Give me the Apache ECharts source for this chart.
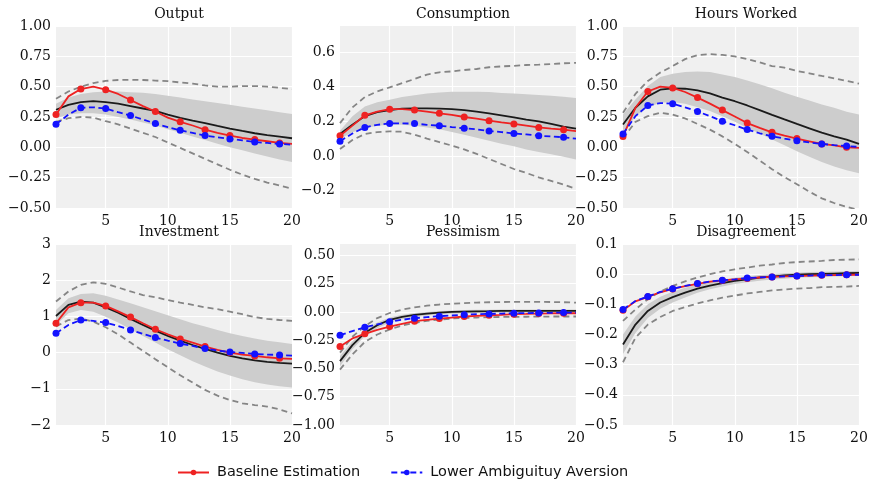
<!DOCTYPE html>
<html>
<head>
<meta charset="utf-8">
<script src="https://cdn.jsdelivr.net/npm/echarts@6/dist/echarts.min.js"></script>
<style>html,body{margin:0;padding:0;background:#fff;}#c{width:871px;height:483px;}</style>
</head>
<body>
<div id="c"></div>
<script>
// ---------- data ----------
const horizons = [1,2,3,4,5,6,7,8,9,10,11,12,13,14,15,16,17,18,19,20];
const xTicks = [5,10,15,20];
const panelTitles = ['Output','Consumption','Hours Worked','Investment','Pessimism','Disagreement'];
const seriesNames = ['Baseline Estimation','Lower Ambiguituy Aversion'];

// Output
const output_red   = [0.27,0.42,0.48,0.50,0.475,0.44,0.39,0.34,0.295,0.245,0.21,0.18,0.145,0.12,0.097,0.077,0.064,0.05,0.036,0.028];
const output_blue  = [0.19,0.27,0.326,0.33,0.32,0.29,0.262,0.23,0.196,0.166,0.141,0.119,0.097,0.083,0.069,0.058,0.044,0.036,0.028,0.022];
const output_med   = [0.31,0.35,0.373,0.38,0.373,0.36,0.34,0.32,0.30,0.27,0.243,0.22,0.20,0.177,0.155,0.135,0.116,0.10,0.088,0.075];
const output_bandLo= [0.24,0.27,0.28,0.28,0.27,0.25,0.23,0.205,0.18,0.15,0.12,0.09,0.06,0.03,0.0,-0.025,-0.05,-0.075,-0.10,-0.12];
const output_bandHi= [0.36,0.41,0.44,0.455,0.46,0.46,0.455,0.45,0.44,0.425,0.41,0.395,0.38,0.365,0.35,0.335,0.32,0.305,0.29,0.275];
const output_ciLo  = [0.21,0.24,0.25,0.245,0.215,0.19,0.155,0.12,0.085,0.04,-0.005,-0.05,-0.095,-0.14,-0.185,-0.225,-0.26,-0.29,-0.315,-0.34];
const output_ciHi  = [0.40,0.46,0.50,0.53,0.547,0.555,0.556,0.555,0.55,0.545,0.535,0.525,0.51,0.50,0.50,0.505,0.505,0.50,0.49,0.48];

// Consumption
const cons_red   = [0.117,0.175,0.235,0.256,0.27,0.27,0.265,0.256,0.246,0.237,0.225,0.215,0.204,0.194,0.185,0.175,0.165,0.158,0.152,0.144];
const cons_blue  = [0.085,0.13,0.165,0.18,0.188,0.188,0.187,0.18,0.175,0.167,0.16,0.154,0.144,0.138,0.13,0.125,0.117,0.113,0.108,0.10];
const cons_med   = [0.127,0.18,0.23,0.253,0.265,0.273,0.275,0.275,0.273,0.27,0.265,0.256,0.246,0.235,0.223,0.21,0.20,0.185,0.17,0.158];
const cons_bandLo= [0.10,0.137,0.16,0.175,0.18,0.18,0.175,0.165,0.154,0.138,0.123,0.106,0.088,0.071,0.056,0.038,0.023,0.01,-0.004,-0.02];
const cons_bandHi= [0.146,0.23,0.285,0.31,0.325,0.34,0.35,0.36,0.367,0.37,0.37,0.37,0.369,0.363,0.36,0.356,0.352,0.348,0.342,0.335];
const cons_ciLo  = [0.04,0.092,0.127,0.138,0.142,0.14,0.123,0.10,0.08,0.06,0.038,0.012,-0.017,-0.046,-0.075,-0.098,-0.123,-0.144,-0.165,-0.19];
const cons_ciHi  = [0.19,0.28,0.34,0.373,0.396,0.42,0.444,0.47,0.483,0.488,0.496,0.502,0.512,0.517,0.52,0.525,0.527,0.53,0.535,0.537];

// Hours Worked
const hours_red   = [0.09,0.326,0.46,0.50,0.49,0.456,0.41,0.36,0.307,0.254,0.20,0.16,0.124,0.097,0.072,0.05,0.028,0.017,0.0,-0.005];
const hours_blue  = [0.11,0.257,0.345,0.365,0.36,0.33,0.296,0.257,0.215,0.182,0.146,0.116,0.091,0.072,0.055,0.041,0.028,0.019,0.011,0.003];
const hours_med   = [0.188,0.326,0.42,0.475,0.486,0.483,0.47,0.445,0.41,0.38,0.345,0.307,0.268,0.23,0.193,0.157,0.121,0.09,0.064,0.028];
const hours_bandLo= [0.105,0.257,0.33,0.367,0.373,0.36,0.33,0.30,0.257,0.21,0.16,0.113,0.064,0.017,-0.033,-0.077,-0.12,-0.157,-0.188,-0.213];
const hours_bandHi= [0.27,0.395,0.505,0.58,0.607,0.62,0.624,0.62,0.60,0.58,0.55,0.52,0.486,0.45,0.417,0.387,0.354,0.326,0.293,0.27];
const hours_ciLo  = [0.072,0.21,0.257,0.285,0.27,0.238,0.193,0.146,0.09,0.028,-0.039,-0.108,-0.18,-0.246,-0.304,-0.365,-0.42,-0.459,-0.49,-0.517];
const hours_ciHi  = [0.285,0.44,0.547,0.616,0.67,0.727,0.76,0.768,0.762,0.749,0.727,0.70,0.67,0.657,0.63,0.61,0.588,0.569,0.547,0.525];

// Investment
const inv_red   = [0.81,1.25,1.38,1.38,1.29,1.14,0.98,0.81,0.645,0.506,0.378,0.276,0.166,0.074,0.0,-0.055,-0.092,-0.129,-0.157,-0.175];
const inv_blue  = [0.534,0.764,0.90,0.875,0.83,0.737,0.626,0.516,0.414,0.33,0.249,0.184,0.11,0.055,0.018,-0.009,-0.037,-0.055,-0.065,-0.083];
const inv_med   = [1.01,1.32,1.41,1.38,1.25,1.10,0.93,0.764,0.608,0.46,0.33,0.21,0.10,0.0,-0.092,-0.157,-0.212,-0.258,-0.285,-0.304];
const inv_bandLo= [0.76,1.09,1.18,1.13,0.99,0.83,0.645,0.46,0.276,0.092,-0.074,-0.24,-0.387,-0.525,-0.635,-0.737,-0.82,-0.884,-0.93,-0.967];
const inv_bandHi= [1.18,1.50,1.62,1.64,1.57,1.47,1.36,1.25,1.14,1.03,0.92,0.81,0.72,0.626,0.534,0.46,0.387,0.33,0.285,0.24];
const inv_ciLo  = [0.72,0.90,0.94,0.856,0.70,0.506,0.276,0.046,-0.184,-0.405,-0.626,-0.83,-1.03,-1.19,-1.31,-1.40,-1.45,-1.49,-1.57,-1.68];
const inv_ciHi  = [1.41,1.69,1.87,1.94,1.90,1.80,1.69,1.59,1.53,1.45,1.38,1.32,1.25,1.20,1.13,1.06,0.98,0.93,0.90,0.875];

// Pessimism
const pess_red   = [-0.306,-0.235,-0.194,-0.159,-0.13,-0.106,-0.082,-0.07,-0.059,-0.05,-0.041,-0.035,-0.03,-0.026,-0.02,-0.018,-0.015,-0.014,-0.012,-0.012];
const pess_blue  = [-0.206,-0.17,-0.135,-0.11,-0.088,-0.07,-0.056,-0.047,-0.038,-0.032,-0.026,-0.02,-0.018,-0.015,-0.012,-0.011,-0.009,-0.008,-0.006,-0.006];
const pess_med   = [-0.435,-0.294,-0.185,-0.118,-0.07,-0.044,-0.026,-0.015,-0.006,0.0,0.003,0.005,0.006,0.008,0.009,0.009,0.009,0.009,0.009,0.009];
const pess_bandLo= [-0.48,-0.33,-0.215,-0.145,-0.095,-0.065,-0.045,-0.032,-0.022,-0.016,-0.012,-0.01,-0.009,-0.008,-0.008,-0.008,-0.008,-0.008,-0.008,-0.008];
const pess_bandHi= [-0.39,-0.26,-0.16,-0.095,-0.05,-0.025,-0.01,0.0,0.008,0.013,0.016,0.018,0.019,0.02,0.02,0.02,0.02,0.02,0.02,0.02];
const pess_ciLo  = [-0.51,-0.376,-0.265,-0.20,-0.156,-0.12,-0.097,-0.079,-0.068,-0.059,-0.053,-0.05,-0.047,-0.045,-0.044,-0.043,-0.042,-0.041,-0.041,-0.041];
const pess_ciHi  = [-0.36,-0.22,-0.125,-0.055,-0.01,0.02,0.04,0.055,0.065,0.072,0.078,0.082,0.085,0.087,0.088,0.088,0.088,0.087,0.085,0.082];

// Disagreement
const dis_red   = [-0.12,-0.09,-0.075,-0.06,-0.049,-0.04,-0.032,-0.025,-0.021,-0.017,-0.014,-0.011,-0.009,-0.007,-0.006,-0.005,-0.004,-0.003,-0.002,-0.002];
const dis_blue  = [-0.117,-0.089,-0.074,-0.059,-0.048,-0.039,-0.031,-0.024,-0.02,-0.017,-0.013,-0.011,-0.009,-0.007,-0.006,-0.005,-0.003,-0.003,-0.002,-0.002];
const dis_med   = [-0.233,-0.167,-0.122,-0.094,-0.076,-0.061,-0.048,-0.038,-0.03,-0.022,-0.017,-0.011,-0.008,-0.004,-0.002,0.0,0.001,0.002,0.003,0.004];
const dis_bandLo= [-0.265,-0.195,-0.145,-0.115,-0.094,-0.077,-0.062,-0.05,-0.041,-0.033,-0.027,-0.022,-0.018,-0.015,-0.012,-0.01,-0.009,-0.008,-0.007,-0.006];
const dis_bandHi= [-0.20,-0.14,-0.10,-0.075,-0.058,-0.045,-0.034,-0.025,-0.018,-0.012,-0.007,-0.003,0.0,0.003,0.005,0.007,0.008,0.009,0.01,0.011];
const dis_ciLo  = [-0.292,-0.211,-0.167,-0.142,-0.122,-0.109,-0.097,-0.087,-0.078,-0.071,-0.064,-0.059,-0.054,-0.051,-0.048,-0.046,-0.043,-0.042,-0.041,-0.039];
const dis_ciHi  = [-0.155,-0.117,-0.083,-0.058,-0.039,-0.024,-0.011,0.0,0.009,0.016,0.022,0.028,0.032,0.037,0.04,0.042,0.044,0.047,0.048,0.049];

// y-axis tick labels per panel
const yTicks = [
  [-0.5,-0.25,0,0.25,0.5,0.75,1.0],
  [-0.2,0,0.2,0.4,0.6],
  [-0.5,-0.25,0,0.25,0.5,0.75,1.0],
  [-2,-1,0,1,2,3],
  [-1.0,-0.75,-0.5,-0.25,0,0.25,0.5],
  [-0.5,-0.4,-0.3,-0.2,-0.1,0.0,0.1]
];
const yRanges = [[-0.5,1.0],[-0.3,0.75],[-0.5,1.0],[-2,3],[-1.0,0.6],[-0.5,0.1]];
const yDecimals = [2,1,2,0,2,1];

const panels = [
  {red:output_red, blue:output_blue, med:output_med, lo:output_bandLo, hi:output_bandHi, ciLo:output_ciLo, ciHi:output_ciHi},
  {red:cons_red, blue:cons_blue, med:cons_med, lo:cons_bandLo, hi:cons_bandHi, ciLo:cons_ciLo, ciHi:cons_ciHi},
  {red:hours_red, blue:hours_blue, med:hours_med, lo:hours_bandLo, hi:hours_bandHi, ciLo:hours_ciLo, ciHi:hours_ciHi},
  {red:inv_red, blue:inv_blue, med:inv_med, lo:inv_bandLo, hi:inv_bandHi, ciLo:inv_ciLo, ciHi:inv_ciHi},
  {red:pess_red, blue:pess_blue, med:pess_med, lo:pess_bandLo, hi:pess_bandHi, ciLo:pess_ciLo, ciHi:pess_ciHi},
  {red:dis_red, blue:dis_blue, med:dis_med, lo:dis_bandLo, hi:dis_bandHi, ciLo:dis_ciLo, ciHi:dis_ciHi}
];

// ---------- layout ----------
const colLeft = [56, 340, 623];
const colWidth = 236;
const rowTop = [26, 244];
const rowHeight = [182, 181];

const RED = '#ee2222';
const BLUE = '#1212ff';
const SERIF = '"DejaVu Serif", serif';

const grids = [], xAxes = [], yAxes = [], series = [], titles = [];
const pair = (arr) => arr.map((v, i) => [horizons[i], v]);
const fmt = (d) => (v) => {
  const s = Math.abs(v).toFixed(d);
  return (v < -1e-9 ? '\u2212' : '') + s;
};

panels.forEach((p, k) => {
  const r = Math.floor(k / 3), c = k % 3;
  grids.push({left: colLeft[c], top: rowTop[r], width: colWidth, height: rowHeight[r],
    show: true, backgroundColor: '#f0f0f0', borderWidth: 0, containLabel: false});
  titles.push({text: panelTitles[k], left: colLeft[c] + colWidth / 2, top: r === 0 ? 2 : 220,
    textAlign: 'center',
    textStyle: {fontFamily: SERIF, fontSize: 14, fontWeight: 'normal', color: '#111'}});
  xAxes.push({type: 'value', gridIndex: k, min: 1, max: 20,
    axisLine: {show: false}, axisTick: {show: false, customValues: xTicks},
    axisLabel: {customValues: xTicks, fontFamily: SERIF, fontSize: 14, color: '#111', margin: 6},
    splitLine: {show: true, lineStyle: {color: '#ffffff', width: 1.2}}});
  yAxes.push({type: 'value', gridIndex: k, min: yRanges[k][0], max: yRanges[k][1],
    axisLine: {show: false}, axisTick: {show: false, customValues: yTicks[k]},
    axisLabel: {customValues: yTicks[k], formatter: fmt(yDecimals[k]), fontFamily: SERIF, fontSize: 14, color: '#111', margin: 5},
    splitLine: {show: true, lineStyle: {color: '#ffffff', width: 1.2}}});

  const base = {xAxisIndex: k, yAxisIndex: k, animation: false, silent: true};
  // shaded band as a polygon through the axis scales
  series.push(Object.assign({}, base, {type: 'custom', name: 'band' + k,
    data: [[horizons[0], p.lo[0]]], clip: true, z: 1,
    renderItem: (params, api) => {
      const pts = [];
      for (let i = 0; i < horizons.length; i++) pts.push(api.coord([horizons[i], p.hi[i]]));
      for (let i = horizons.length - 1; i >= 0; i--) pts.push(api.coord([horizons[i], p.lo[i]]));
      return {type: 'polygon', shape: {points: pts}, style: {fill: '#cdcdcd'}};
    }}));
  // dashed outer bands
  [p.ciLo, p.ciHi].forEach((arr, j) => series.push(Object.assign({}, base, {type: 'line', name: 'ci' + j + '_' + k,
    data: pair(arr), symbol: 'none', lineStyle: {color: '#858585', width: 1.8, type: [6, 4]}, z: 2})));
  // median
  series.push(Object.assign({}, base, {type: 'line', name: 'median' + k, data: pair(p.med), symbol: 'none',
    lineStyle: {color: '#1a1a1a', width: 1.8}, z: 3}));
  // red baseline
  series.push(Object.assign({}, base, {type: 'line', name: seriesNames[0], data: pair(p.red),
    symbol: (v, params) => (params.dataIndex % 2 === 0 ? 'circle' : 'none'), symbolSize: 7, showAllSymbol: true,
    lineStyle: {color: RED, width: 1.8}, itemStyle: {color: RED, borderWidth: 0}, color: RED, z: 4}));
  // blue lower ambiguity
  series.push(Object.assign({}, base, {type: 'line', name: seriesNames[1], data: pair(p.blue),
    symbol: (v, params) => (params.dataIndex % 2 === 0 ? 'circle' : 'none'), symbolSize: 7, showAllSymbol: true,
    lineStyle: {color: BLUE, width: 1.8, type: [6, 3.5]}, itemStyle: {color: BLUE, borderWidth: 0}, color: BLUE, z: 5}));
});

const chart = echarts.init(document.getElementById('c'), null, {renderer: 'canvas'});
chart.setOption({
  animation: false,
  backgroundColor: '#ffffff',
  title: titles,
  grid: grids,
  xAxis: xAxes,
  yAxis: yAxes,
  series: series,
  legend: {
    data: seriesNames,
    top: 460,
    left: 172,
    itemWidth: 31,
    itemHeight: 7,
    itemGap: 30,
    textStyle: {fontFamily: '"DejaVu Sans", sans-serif', fontSize: 14.5, color: '#111', padding: [0, 0, 0, 3]},
    selectedMode: false
  }
});
</script>
</body>
</html>
